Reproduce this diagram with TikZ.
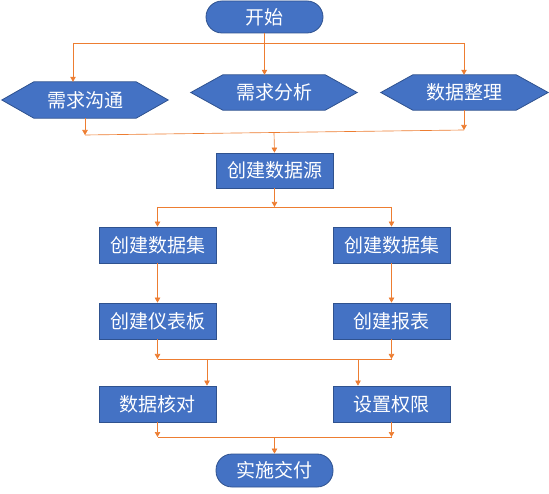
\documentclass[tikz,border=0pt]{standalone}
\usepackage{fontspec}
\setmainfont{Noto Sans CJK SC}
\usetikzlibrary{arrows.meta,calc,backgrounds}
\definecolor{boxblue}{HTML}{4472C4}
\definecolor{boxline}{HTML}{2F528F}
\definecolor{connorange}{HTML}{ED7D31}
\begin{document}
\begin{tikzpicture}[x=1pt,y=-1pt,
  txt/.style={text=white, inner sep=0pt, font=\fontsize{19}{21}\selectfont},
  box/.style={txt, rectangle, fill=boxblue, draw=boxline, line width=0.8pt,
    minimum width=117pt, minimum height=36pt},
  term/.style={box, rounded corners=16pt, minimum height=32pt},
  hexnode/.style={txt, rectangle, minimum width=166pt, minimum height=36pt},
  hexshape/.style={fill=boxblue, draw=boxline, line width=0.8pt},
  conn/.style={draw=connorange, line width=0.65pt},
  arr/.style={conn, -{Triangle[width=5.5pt,length=5pt]}}
]
\useasboundingbox (0,0) rectangle (549,494);

% nodes
\node[term] (start) at (264.5,17) {开始};
\node[hexnode] (gt) at (85,100) {需求沟通};
\node[hexnode, minimum height=35pt] (fx) at (274,92.5) {需求分析};
\node[hexnode, minimum height=35pt, minimum width=167pt] (zl) at (464.5,92.5) {数据整理};
\node[box, minimum height=35pt] (ds) at (274.5,170.5) {创建数据源};
\node[box] (c1) at (157.5,245) {创建数据集};
\node[box] (c2) at (391.5,245) {创建数据集};
\node[box] (d1) at (157.5,321) {创建仪表板};
\node[box] (d2) at (391.5,321) {创建报表};
\node[box] (e1) at (157.5,404) {数据核对};
\node[box] (e2) at (391.5,404) {设置权限};
\node[term, minimum height=33pt] (fin) at (274.5,470.5) {实施交付};

% hexagon outlines behind the text
\begin{scope}[on background layer]
\foreach \n in {gt,fx,zl}{
  \draw[hexshape] (\n.west) -- ([xshift=32pt]\n.north west) -- ([xshift=-32pt]\n.north east)
    -- (\n.east) -- ([xshift=-32pt]\n.south east) -- ([xshift=32pt]\n.south west) -- cycle;
}
\end{scope}

% junction coordinates
\coordinate (t1) at (73,43);
\coordinate (t3) at (464,43);
\coordinate (m1) at (85,135);
\coordinate (m3) at (464,130);
\coordinate (m2) at (274,132.5);
\coordinate (s1) at (157.5,207);
\coordinate (s2) at (274.5,207);
\coordinate (s3) at (391.5,207);
\coordinate (u1) at (157.5,359);
\coordinate (u3) at (391.5,359);
\coordinate (ua) at (207,359);
\coordinate (ub) at (358,359);
\coordinate (v1) at (157.5,437);
\coordinate (v2) at (274.5,437);
\coordinate (v3) at (391.5,437);

% connectors
\draw[conn] (t1) -- (t3);
\draw[arr] (start.south) -- (start.south |- fx.north);
\draw[arr] (t1) -- (t1 |- gt.north);
\draw[arr] (t3) -- (t3 |- zl.north);

\draw[arr] (gt.south) -- (m1);
\draw[arr] (zl.south -| m3) -- (m3);
\draw[conn] (m1) -- (m3);
\draw[arr] (m2) -- (ds.north);

\draw[arr] (ds.south) -- (s2);
\draw[conn] (s1) -- (s3);
\draw[arr] (s1) -- (c1.north);
\draw[arr] (s3) -- (c2.north);

\draw[arr] (c1) -- (d1);
\draw[arr] (c2) -- (d2);

\draw[arr] (d1.south) -- (u1);
\draw[arr] (d2.south) -- (u3);
\draw[conn] (u1) -- (u3);
\draw[arr] (ua) -- (ua |- e1.north);
\draw[arr] (ub) -- (ub |- e2.north);

\draw[arr] (e1.south) -- (v1);
\draw[arr] (e2.south) -- (v3);
\draw[conn] (v1) -- (v3);
\draw[arr] (v2) -- (fin.north);
\end{tikzpicture}
\end{document}
